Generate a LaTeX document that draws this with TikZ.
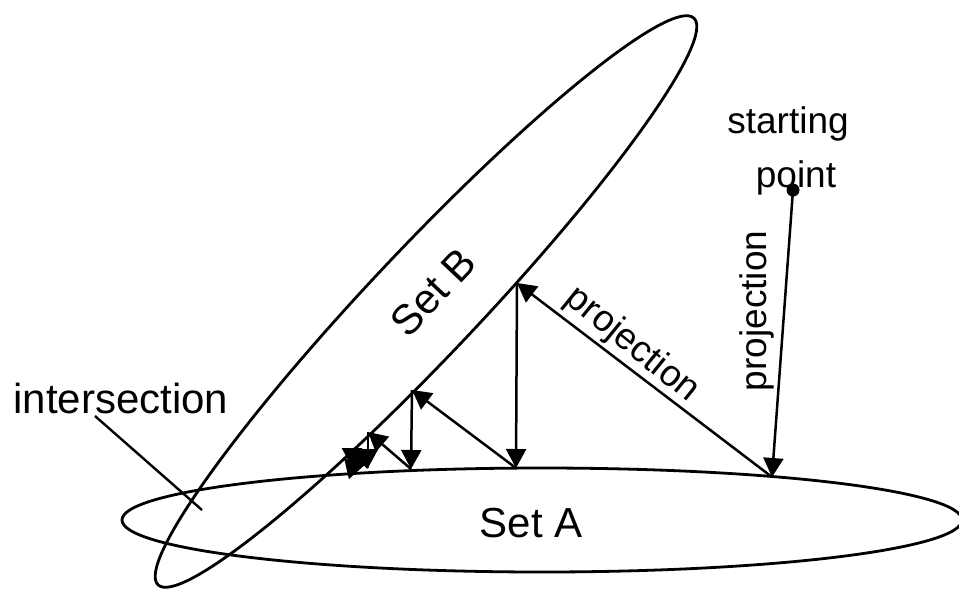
\documentclass[tikz,border=0pt]{standalone}
\usepackage{fontspec}
\setmainfont{Liberation Sans}
\usetikzlibrary{arrows.meta,shapes.geometric}
\begin{document}
\begin{tikzpicture}[x=0.5pt,y=-0.5pt,
  setshape/.style={draw, ellipse, line width=1.4pt, inner sep=0pt},
  proj/.style={line width=1.25pt, -{Triangle[length=9.5pt,width=10pt]}},
  bigtext/.style={font=\fontsize{21}{25}\selectfont, inner sep=0pt},
  smalltext/.style={font=\fontsize{18.5}{22}\selectfont, inner sep=0pt},
  thinline/.style={line width=1.2pt}]
\useasboundingbox (0,0) rectangle (959,596);
% the two sets
\node[setshape, minimum width=420pt, minimum height=52pt] (A) at (542,520) {};
\node[setshape, minimum width=390pt, minimum height=54pt, rotate=46.6] (B) at (426,301.5) {};
% labels
\node[bigtext, anchor=base] (lA) at (531,537) {Set A};
\node[bigtext, rotate=46.6] (lB) at (433,292) {Set B};
\node[bigtext, anchor=base west] (li) at (13,413) {intersection};
\node[smalltext, anchor=base] (ls1) at (788,133) {starting};
\node[smalltext, anchor=base] (ls2) at (796,187) {point};
\node[smalltext, rotate=-39] (lp1) at (632,345) {projection};
\node[smalltext, rotate=90] (lp2) at (757,311) {projection};
% starting point
\node[circle, fill, inner sep=0pt, minimum size=6.5pt] (s) at (793,190) {};
% projection points
\coordinate (a1) at (772,477);
\coordinate (b1) at (517,283);
\coordinate (a2) at (516,468);
\coordinate (b2) at (412,390);
\coordinate (a3) at (411,469);
\coordinate (b3) at (368,432);
\coordinate (a4) at (368,468);
\coordinate (b4) at (352,450);
\coordinate (a5) at (352,467);
\coordinate (b5) at (344,458);
\draw[proj] (s.center) -- (a1);
\draw[proj] (a1) -- (b1);
\draw[proj] (b1) -- (a2);
\draw[proj] (a2) -- (b2);
\draw[proj] (b2) -- (a3);
\draw[proj] (a3) -- (b3);
\draw[proj] (b3) -- (a4);
\draw[proj] (a4) -- (b4);
\draw[proj] (b4) -- (a5);
\draw[proj] (a5) -- (b5);
% intersection pointer
\coordinate (i0) at (95,416);
\coordinate (ie) at (202,510);
\draw[thinline] (i0) -- (ie);
\end{tikzpicture}
\end{document}
